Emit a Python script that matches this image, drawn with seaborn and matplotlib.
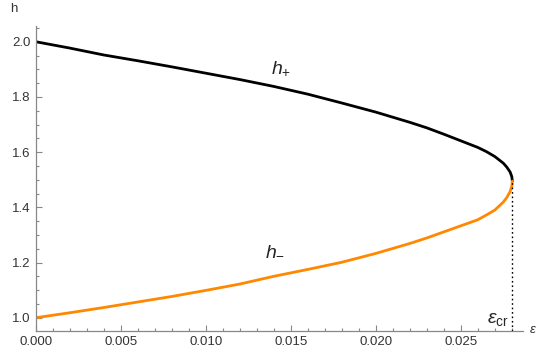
import matplotlib
matplotlib.use("Agg")
import matplotlib.pyplot as plt
from matplotlib.ticker import MultipleLocator, FormatStrFormatter
import seaborn as sns
import pandas as pd

# values
eps = [0.0, 0.002, 0.004, 0.006, 0.008, 0.010, 0.012, 0.014, 0.016, 0.018,
       0.020, 0.022, 0.023, 0.024, 0.025, 0.026, 0.0265, 0.027, 0.0275,
       0.0277, 0.0279, 0.0280, 0.02803]
h_plus = [2.000, 1.977, 1.952, 1.931, 1.909, 1.886, 1.863, 1.838, 1.810, 1.778,
          1.745, 1.708, 1.688, 1.665, 1.641, 1.617, 1.602, 1.584, 1.560,
          1.546, 1.528, 1.511, 1.495]
h_minus = [1.000, 1.018, 1.037, 1.057, 1.077, 1.099, 1.122, 1.150, 1.175, 1.201,
           1.233, 1.269, 1.289, 1.311, 1.333, 1.355, 1.372, 1.390, 1.419,
           1.435, 1.457, 1.477, 1.495]
eps_cr = 0.02803
h_cr = 1.495

xticks = [0.000, 0.005, 0.010, 0.015, 0.020, 0.025]
yticks = [1.0, 1.2, 1.4, 1.6, 1.8, 2.0]

df = pd.DataFrame({"eps": eps, "hp": h_plus, "hm": h_minus})

sns.set_style("ticks")
plt.rcParams["font.family"] = ["Liberation Sans", "DejaVu Sans"]
plt.rcParams["mathtext.fontset"] = "custom"
plt.rcParams["mathtext.rm"] = "Liberation Sans"
plt.rcParams["mathtext.it"] = "Liberation Sans:italic"

fig = plt.figure(figsize=(5.37, 3.54), dpi=100)
ax = fig.add_axes([0.0665, 0.0658, 0.9075, 0.8608])

sns.lineplot(data=df, x="eps", y="hp", sort=False, color="black", lw=2.0, ax=ax)
sns.lineplot(data=df, x="eps", y="hm", sort=False, color="#ff8800", lw=2.0, ax=ax)
ax.plot([eps_cr, eps_cr], [0.953, h_cr], color="black", lw=1.0, ls=(0, (1.2, 2.0)))

ax.set_xlim(0, 0.02866)
ax.set_ylim(0.953, 2.057)
ax.set_xticks(xticks)
ax.set_yticks(yticks)
ax.xaxis.set_major_formatter(FormatStrFormatter("%.3f"))
ax.yaxis.set_major_formatter(FormatStrFormatter("%.1f"))
ax.xaxis.set_minor_locator(MultipleLocator(0.001))
ax.yaxis.set_minor_locator(MultipleLocator(0.05))
ax.tick_params(which="both", direction="in", color="#888888", labelcolor="#333333",
               labelsize=9.5, width=0.8)
ax.tick_params(which="major", length=4)
ax.tick_params(which="minor", length=2)
ax.set_xlabel("")
ax.set_ylabel("")
for s in ["top", "right"]:
    ax.spines[s].set_visible(False)
for s in ["left", "bottom"]:
    ax.spines[s].set_color("#888888")
    ax.spines[s].set_linewidth(0.9)

ax.text(0.0144, 1.905, r"$h_{+}$", fontsize=14, ha="center", va="center")
ax.text(0.0141, 1.245, r"$h_{-}$", fontsize=14, ha="center", va="center")
ax.text(0.0272, 0.995, r"$\epsilon_{\rm cr}$", fontsize=14, ha="center", va="center")
fig.text(14 / 537, 1 - 9 / 354, "h", fontsize=9.5, color="#333333", ha="center", va="center")
fig.text(529 / 537, 1 - 330 / 354, r"$\epsilon$", fontsize=9.5, color="#333333",
         ha="left", va="center")

fig.savefig("out.png", dpi=100)
